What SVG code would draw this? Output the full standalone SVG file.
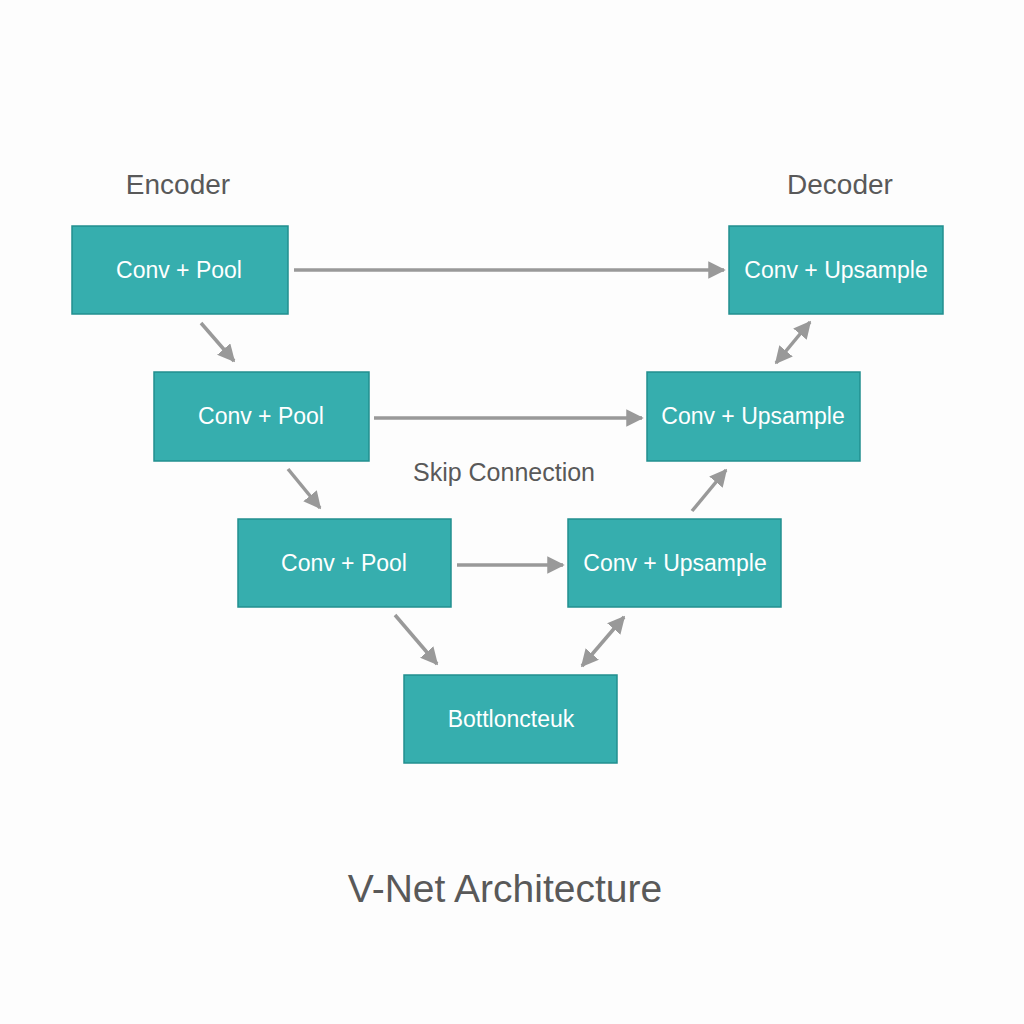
<svg xmlns="http://www.w3.org/2000/svg" width="1024" height="1024" viewBox="0 0 1024 1024">
<style>
.node rect{fill:#36aeae;stroke:#228f8f;stroke-width:1.5}
.node text{fill:#fff;font-family:"Liberation Sans",Arial,sans-serif;font-size:23px;text-anchor:middle;dominant-baseline:central}
.lbl{fill:#595959;font-family:"Liberation Sans",Arial,sans-serif;text-anchor:middle}
.conn line{stroke:#999;stroke-width:3.5;fill:none}
</style>
<defs>
<marker id="ah" viewBox="0 0 10 10" refX="9" refY="5" markerWidth="5" markerHeight="5" orient="auto-start-reverse" markerUnits="strokeWidth">
<path d="M0,0 L10,5 L0,10 z" fill="#999"/>
</marker>
</defs>
<rect width="1024" height="1024" fill="#fdfdfd"/>
<text class="lbl" x="178" y="194" font-size="28">Encoder</text>
<text class="lbl" x="840" y="194" font-size="28">Decoder</text>
<text class="lbl" x="504" y="481" font-size="25">Skip Connection</text>
<text class="lbl" x="505" y="902" font-size="39">V-Net Architecture</text>
<g class="conn">
<line x1="294" y1="270" x2="724" y2="270" marker-end="url(#ah)"/>
<line x1="374" y1="418" x2="642" y2="418" marker-end="url(#ah)"/>
<line x1="457" y1="565" x2="563" y2="565" marker-end="url(#ah)"/>
<line x1="201" y1="323" x2="234" y2="361" marker-end="url(#ah)"/>
<line x1="288" y1="469" x2="320" y2="508" marker-end="url(#ah)"/>
<line x1="395" y1="615" x2="437" y2="664" marker-end="url(#ah)"/>
<line x1="582" y1="666" x2="624" y2="617" marker-start="url(#ah)" marker-end="url(#ah)"/>
<line x1="692" y1="511" x2="726" y2="470" marker-end="url(#ah)"/>
<line x1="776" y1="363" x2="810" y2="322" marker-start="url(#ah)" marker-end="url(#ah)"/>
</g>
<g id="enc1" class="node"><rect x="72" y="226" width="216" height="88"/><text x="179" y="270">Conv + Pool</text></g>
<g id="enc2" class="node"><rect x="154" y="372" width="215" height="89"/><text x="261" y="416">Conv + Pool</text></g>
<g id="enc3" class="node"><rect x="238" y="519" width="213" height="88"/><text x="344" y="563">Conv + Pool</text></g>
<g id="bottleneck" class="node"><rect x="404" y="675" width="213" height="88"/><text x="511" y="719">Bottloncteuk</text></g>
<g id="dec3" class="node"><rect x="568" y="519" width="213" height="88"/><text x="675" y="563">Conv + Upsample</text></g>
<g id="dec2" class="node"><rect x="647" y="372" width="213" height="89"/><text x="753" y="416">Conv + Upsample</text></g>
<g id="dec1" class="node"><rect x="729" y="226" width="214" height="88"/><text x="836" y="270">Conv + Upsample</text></g>
</svg>
